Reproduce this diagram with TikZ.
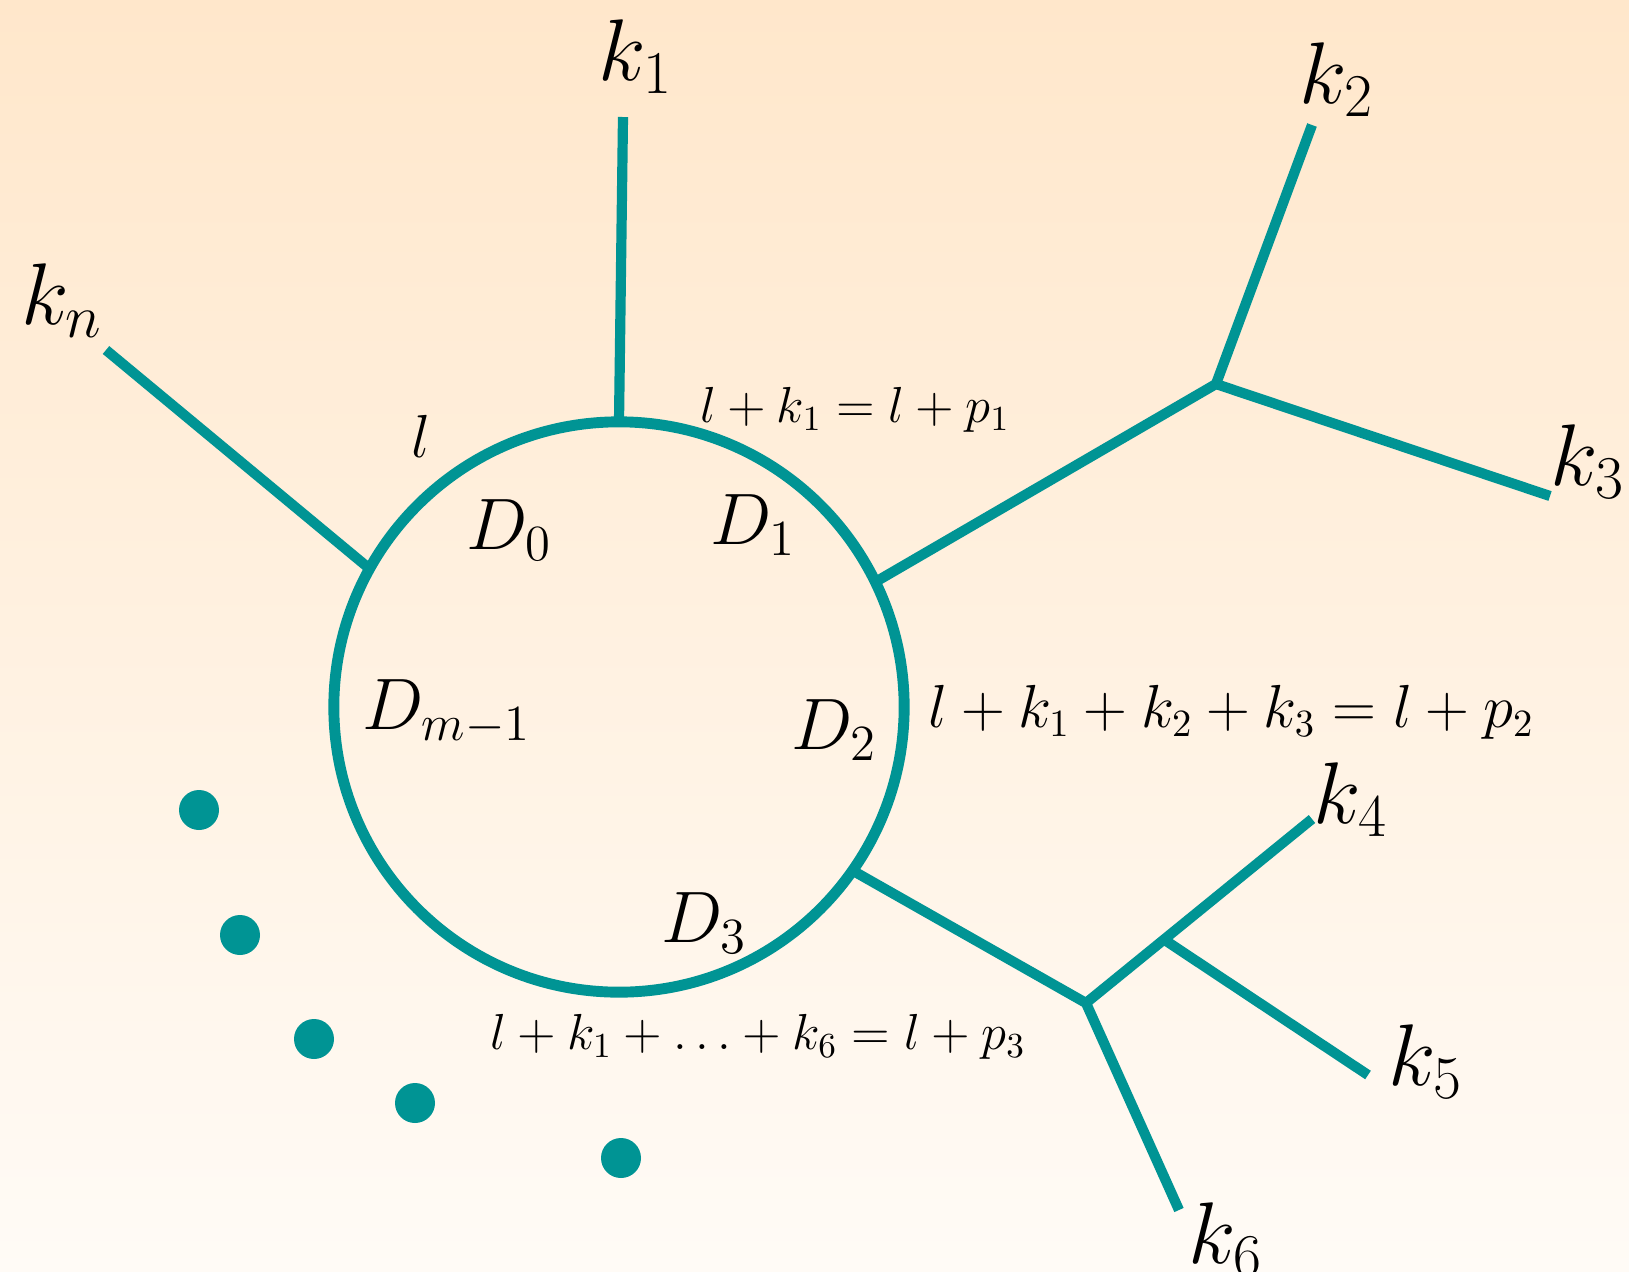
\documentclass[tikz,border=0pt]{standalone}
\usepackage{xcolor}
\definecolor{loopteal}{HTML}{009494}
\definecolor{peachtop}{HTML}{FFE7CB}
\definecolor{peachbottom}{HTML}{FFFBF6}
\usepackage{tikz}
\usetikzlibrary{positioning, calc}

\begin{document}
\begin{tikzpicture}[x=0.01cm, y=-0.01cm,
  leg/.style={draw=loopteal, line width=2.9pt},
  ext/.style={inner sep=0pt, font=\fontsize{25}{29}\selectfont},
  prop/.style={inner sep=0pt, font=\fontsize{21}{25}\selectfont},
  mom/.style={inner sep=0pt, font=\fontsize{14}{17}\selectfont},
  bigmom/.style={inner sep=0pt, font=\fontsize{16.2}{20}\selectfont}]

  % background
  \useasboundingbox (0,0) rectangle (1629,1272);
  \fill[top color=peachtop, bottom color=peachbottom] (0,0) rectangle (1629,1272);

  % the loop
  \node[circle, draw=loopteal, line width=3.1pt, minimum size=5.7cm,
        inner sep=0pt, outer sep=0pt] (loop) at (619,707) {};

  % external momenta
  \node[ext] (k1) at (636,57) {$k_1$};
  \node[ext] (kn) at (62,301) {$k_n$};
  \node[ext] (k2) at (1337,80) {$k_2$};
  \node[ext] (k3) at (1588,462) {$k_3$};
  \node[ext] (k4) at (1351,800) {$k_4$};
  \node[ext] (k5) at (1426,1062) {$k_5$};
  \node[ext] (k6) at (1226,1240) {$k_6$};

  \coordinate (k1e) at (623,117);
  \coordinate (kne) at (106,350);
  \coordinate (k2e) at (1312,125);
  \coordinate (k3e) at (1550,496);
  \coordinate (k4e) at (1312,819);
  \coordinate (k5e) at (1368,1075);
  \coordinate (k6e) at (1179,1210);
  \coordinate (v1) at (1216,384);
  \coordinate (v2) at (1086,1003);
  \coordinate (v3) at ($(v2)!0.345!(k4e)$);

  \draw[leg] (loop.90) -- (k1e);
  \draw[leg] (loop.151) -- (kne);
  \draw[leg] (loop.26.5) -- (v1) -- (k2e);
  \draw[leg] (v1) -- (k3e);
  \draw[leg] (loop.-35.7) -- (v2) -- (k6e);
  \draw[leg] (v2) -- (k4e);
  \draw[leg] (v3) -- (k5e);

  % propagators
  \node[prop] (d0) at (509,530) {$D_0$};
  \node[prop] (d1) at (753,525) {$D_1$};
  \node[prop, font=\fontsize{22}{26}\selectfont] (dm) at (447,712) {$D_{m-1}$};
  \node[prop] (d2) at (834,730) {$D_2$};
  \node[prop] (d3) at (704,923) {$D_3$};

  % loop momenta
  \node[bigmom] (l0) at (421,436) {$l$};
  \node[mom] (p1) at (855,410) {$l+k_1=l+p_1$};
  \node[bigmom, anchor=west] (p2) at (928,712) {$l+k_1+k_2+k_3=l+p_2$};
  \node[mom, font=\fontsize{14.5}{17}\selectfont] (p3) at (758,1037) {$l+k_1+\ldots+k_6=l+p_3$};

  % dots
  \foreach \dx/\dy in {199/810, 240/935, 314/1039, 415/1103, 621/1158}
    \fill[loopteal] (\dx,\dy) circle (20);

\end{tikzpicture}
\end{document}
